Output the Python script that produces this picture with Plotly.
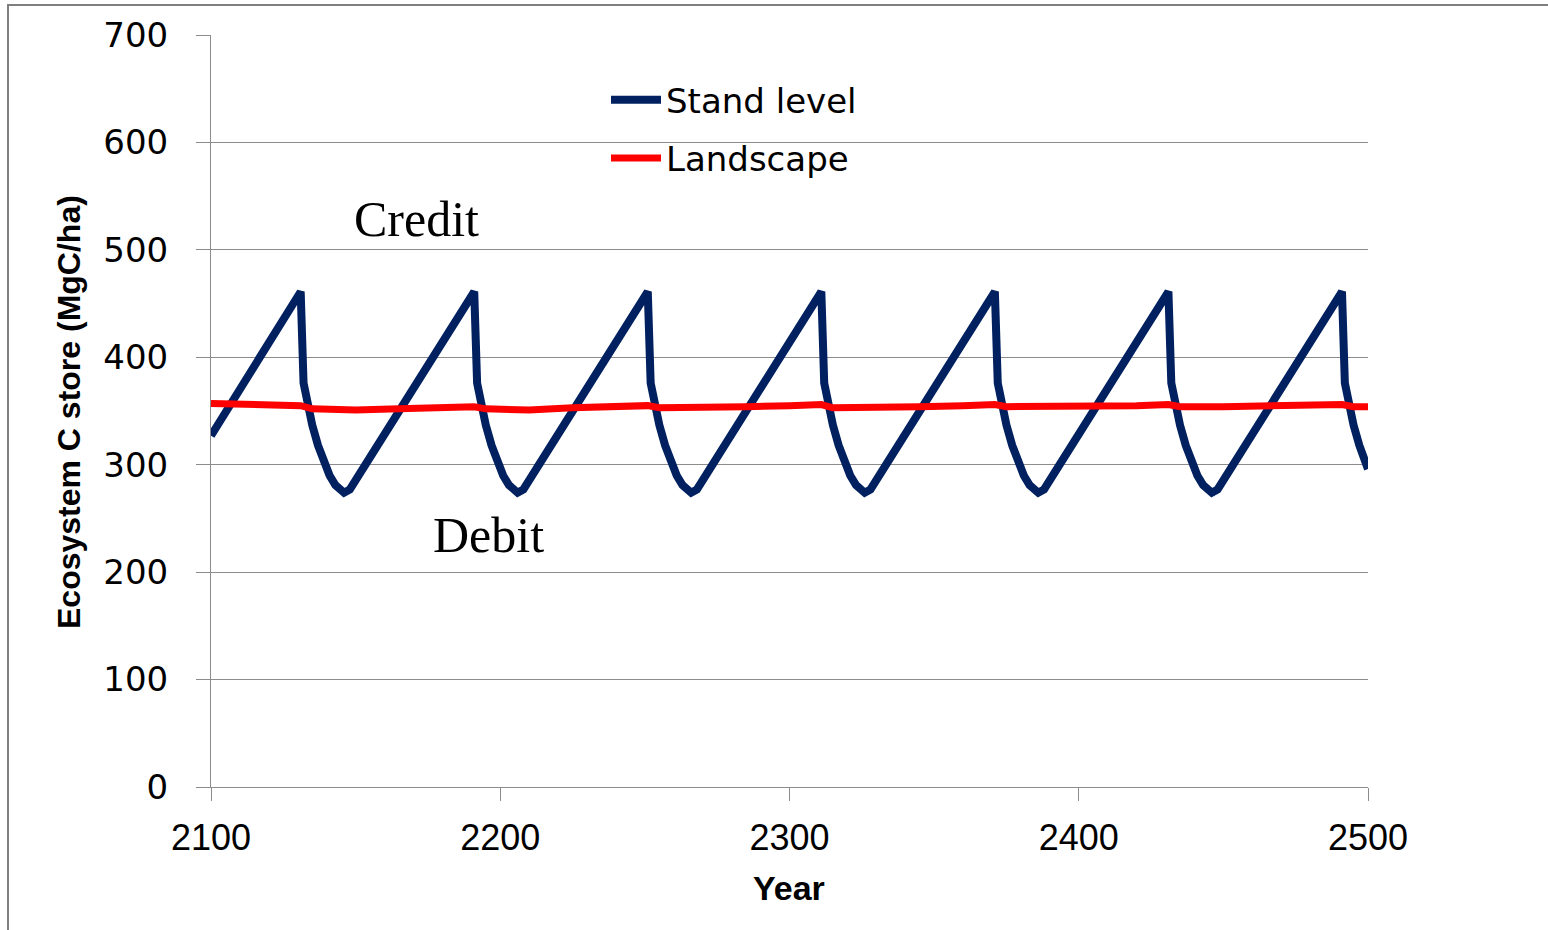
import plotly.graph_objects as go

# Stand-level ecosystem carbon (MgC/ha): harvest every 60 years, sharp loss then regrowth
stand_year = [
    2100,
    2131, 2132, 2133, 2134, 2135, 2137, 2139, 2141, 2143, 2144, 2146, 2148,
    2191, 2192, 2193, 2194, 2195, 2197, 2199, 2201, 2203, 2204, 2206, 2208,
    2251, 2252, 2253, 2254, 2255, 2257, 2259, 2261, 2263, 2264, 2266, 2268,
    2311, 2312, 2313, 2314, 2315, 2317, 2319, 2321, 2323, 2324, 2326, 2328,
    2371, 2372, 2373, 2374, 2375, 2377, 2379, 2381, 2383, 2384, 2386, 2388,
    2431, 2432, 2433, 2434, 2435, 2437, 2439, 2441, 2443, 2444, 2446, 2448,
    2491, 2492, 2493, 2494, 2495, 2497, 2499, 2500,
]
stand_c = [
    327,
    461, 376, 361, 348, 337, 318, 302, 290, 281, 278, 274, 277,
    461, 376, 361, 348, 337, 318, 302, 290, 281, 278, 274, 277,
    461, 376, 361, 348, 337, 318, 302, 290, 281, 278, 274, 277,
    461, 376, 361, 348, 337, 318, 302, 290, 281, 278, 274, 277,
    461, 376, 361, 348, 337, 318, 302, 290, 281, 278, 274, 277,
    461, 376, 361, 348, 337, 318, 302, 290, 281, 278, 274, 277,
    461, 376, 361, 348, 337, 318, 302, 296,
]

# Landscape-level average (MgC/ha): nearly constant
land_year = [
    2100, 2110, 2120, 2131, 2135, 2150, 2165, 2180, 2191, 2195, 2210, 2225,
    2240, 2251, 2255, 2270, 2285, 2300, 2311, 2315, 2330, 2345, 2360, 2371,
    2375, 2390, 2405, 2420, 2431, 2435, 2450, 2465, 2480, 2491, 2495, 2500,
]
land_c = [
    357, 356, 355, 355, 352, 351, 352, 353, 354, 352, 351, 353,
    354, 355, 353, 353, 354, 355, 356, 353, 353, 354, 355, 356,
    354, 354, 355, 355, 356, 354, 354, 355, 356, 356, 354, 354,
]

y_ticks = [0, 100, 200, 300, 400, 500, 600, 700]
x_ticks = [2100, 2200, 2300, 2400, 2500]

NAVY = "#002060"
RED = "#FF0000"
GRID = "#8C8C8C"

fig = go.Figure()
fig.add_trace(go.Scatter(
    x=stand_year, y=stand_c, mode="lines", name="Stand level",
    line=dict(color=NAVY, width=8), legendgroup="a",
))
fig.add_trace(go.Scatter(
    x=land_year, y=land_c, mode="lines", name="Landscape",
    line=dict(color=RED, width=7), legendgroup="b",
))

fig.update_layout(
    width=1548, height=930,
    margin=dict(l=211, r=180, t=35, b=143),
    paper_bgcolor="white", plot_bgcolor="white",
    showlegend=True,
    legend=dict(
        x=0.3414, y=0.952, xanchor="left", yanchor="top",
        font=dict(family="DejaVu Sans", size=34, color="black"),
        bgcolor="rgba(0,0,0,0)", tracegroupgap=11, itemwidth=50,
        traceorder="grouped",
    ),
    xaxis=dict(
        range=[2100, 2500], tickvals=x_ticks, ticktext=[str(v) for v in x_ticks],
        showgrid=False, zeroline=False,
        showline=True, linecolor=GRID, linewidth=1,
        ticks="outside", ticklen=13, tickcolor=GRID, tickwidth=1,
        tickfont=dict(family="Liberation Sans", size=36, color="black"),
        ticklabelstandoff=6,
    ),
    yaxis=dict(
        range=[0, 700], tickvals=y_ticks, ticktext=[str(v) for v in y_ticks],
        showgrid=True, gridcolor=GRID, gridwidth=1, zeroline=False,
        showline=True, linecolor=GRID, linewidth=1,
        ticks="outside", ticklen=14, tickcolor=GRID, tickwidth=1,
        tickfont=dict(family="DejaVu Sans", size=34, color="black"),
        ticklabelstandoff=21,
    ),
    annotations=[
        dict(text="<b>Year</b>", xref="paper", yref="paper",
             x=(789 - 211) / 1157, y=(787 - 888) / 752,
             xanchor="center", yanchor="middle", showarrow=False,
             font=dict(family="Liberation Sans", size=34, color="black")),
        dict(text="<b>Ecosystem C store (MgC/ha)</b>", xref="paper", yref="paper",
             x=(69 - 211) / 1157, y=(787 - 412) / 752, textangle=-90,
             xanchor="center", yanchor="middle", showarrow=False,
             font=dict(family="Liberation Sans", size=32, color="black")),
        dict(text="Credit", xref="x", yref="y", x=2170.9, y=528.7,
             xanchor="center", yanchor="middle", showarrow=False,
             font=dict(family="Liberation Serif", size=50, color="black")),
        dict(text="Debit", xref="x", yref="y", x=2196.1, y=234.6,
             xanchor="center", yanchor="middle", showarrow=False,
             font=dict(family="Liberation Serif", size=50, color="black")),
    ],
    shapes=[
        dict(type="rect", xref="paper", yref="paper",
             x0=(8 - 211) / 1157, x1=(1600 - 211) / 1157,
             y0=(787 - 1000) / 752, y1=(787 - 5) / 752,
             line=dict(color="#7F7F7F", width=2), fillcolor="rgba(0,0,0,0)",
             layer="below"),
    ],
)

fig.write_html("out.html")
